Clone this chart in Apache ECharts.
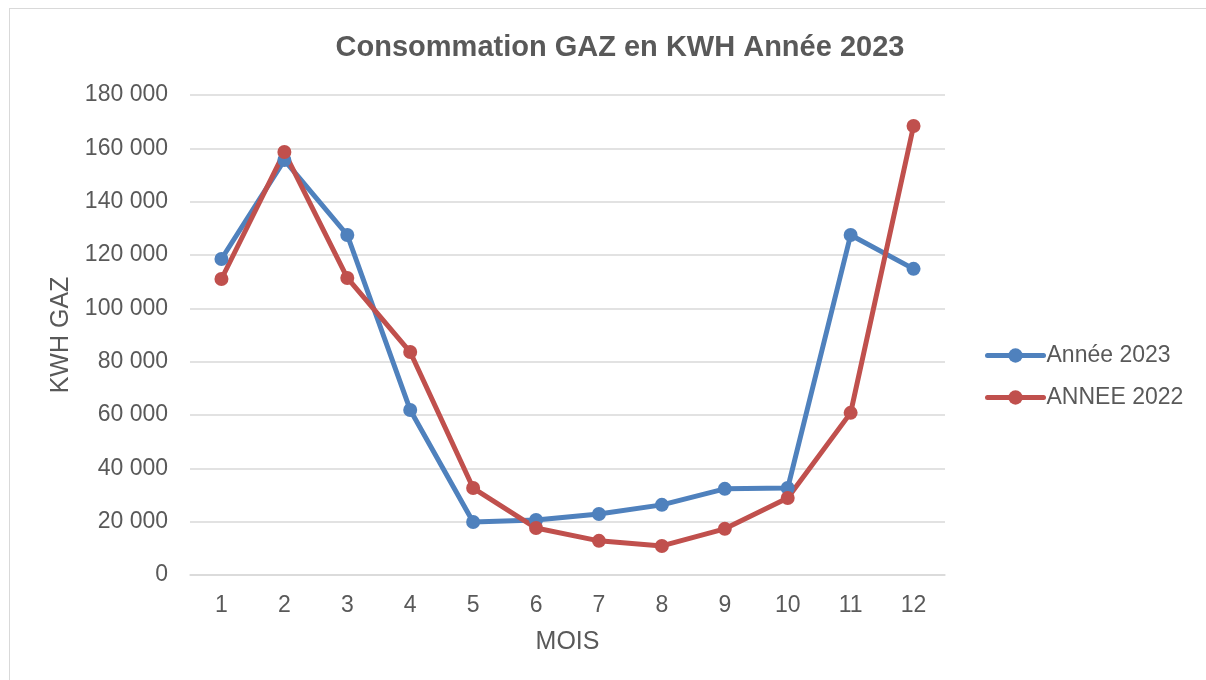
<!DOCTYPE html>
<html><head><meta charset="utf-8">
<script src="https://cdn.jsdelivr.net/npm/echarts@6/dist/echarts.min.js"></script>
<style>
html,body{margin:0;padding:0;background:#fff;}
#frame{position:absolute;left:9px;top:8px;width:1300px;height:700px;border:1px solid #d9d9d9;box-sizing:border-box;}
#main{position:absolute;left:0;top:0;width:1206px;height:680px;}
</style></head>
<body><div id="frame"></div><div id="main"></div>
<script>
const months = ['1','2','3','4','5','6','7','8','9','10','11','12'];
const annee2023 = [118500, 155600, 127500, 61900, 19900, 20600, 22900, 26300, 32300, 32600, 127500, 114800];
const annee2022 = [111000, 158600, 111400, 83600, 32600, 17600, 12800, 10900, 17300, 28900, 60800, 168400];
const seriesNames = ['Année 2023', 'ANNEE 2022'];
const colors = ['#4f81bd', '#c0504d'];

const chart = echarts.init(document.getElementById('main'));
const font = 'Liberation Sans, Arial, sans-serif';
chart.setOption({
  animation:false,
  title:{text:'Consommation GAZ en KWH Année 2023',left:615,top:28,textAlign:'center',
    textStyle:{fontFamily:font,fontSize:29,fontWeight:'bold',color:'#595959'}},
  legend:{orient:'vertical',left:980,top:339,itemGap:19,itemWidth:56,itemHeight:18,
    lineStyle:{width:5,cap:'round'},
    textStyle:{fontFamily:font,fontSize:23,color:'#595959',padding:[0,0,0,-2]},
    data:seriesNames},
  grid:{left:190,right:261,top:95,bottom:105},
  xAxis:{type:'category',data:months,boundaryGap:true,
    name:'MOIS',nameLocation:'middle',nameGap:55,
    nameTextStyle:{fontFamily:font,fontSize:25,color:'#595959'},
    axisLine:{lineStyle:{color:'#d9d9d9',width:1.5}},axisTick:{show:false},
    axisLabel:{fontFamily:font,fontSize:23,color:'#595959',margin:19}},
  yAxis:{type:'value',min:0,max:180000,interval:20000,
    name:'KWH GAZ',nameLocation:'middle',nameGap:114,
    nameTextStyle:{fontFamily:font,fontSize:25,color:'#595959'},
    axisLine:{show:false},axisTick:{show:false},
    splitLine:{lineStyle:{color:'#d9d9d9',width:1.5}},
    axisLabel:{fontFamily:font,fontSize:23,color:'#595959',margin:22,
      formatter:v=>String(v).replace(/\B(?=(\d{3})+(?!\d))/g,' ')}},
  series:[
    {name:seriesNames[0],type:'line',data:annee2023,symbol:'circle',symbolSize:14,
      lineStyle:{width:5,color:colors[0]},itemStyle:{color:colors[0]}},
    {name:seriesNames[1],type:'line',data:annee2022,symbol:'circle',symbolSize:14,
      lineStyle:{width:5,color:colors[1]},itemStyle:{color:colors[1]}}
  ]
});
</script></body></html>
